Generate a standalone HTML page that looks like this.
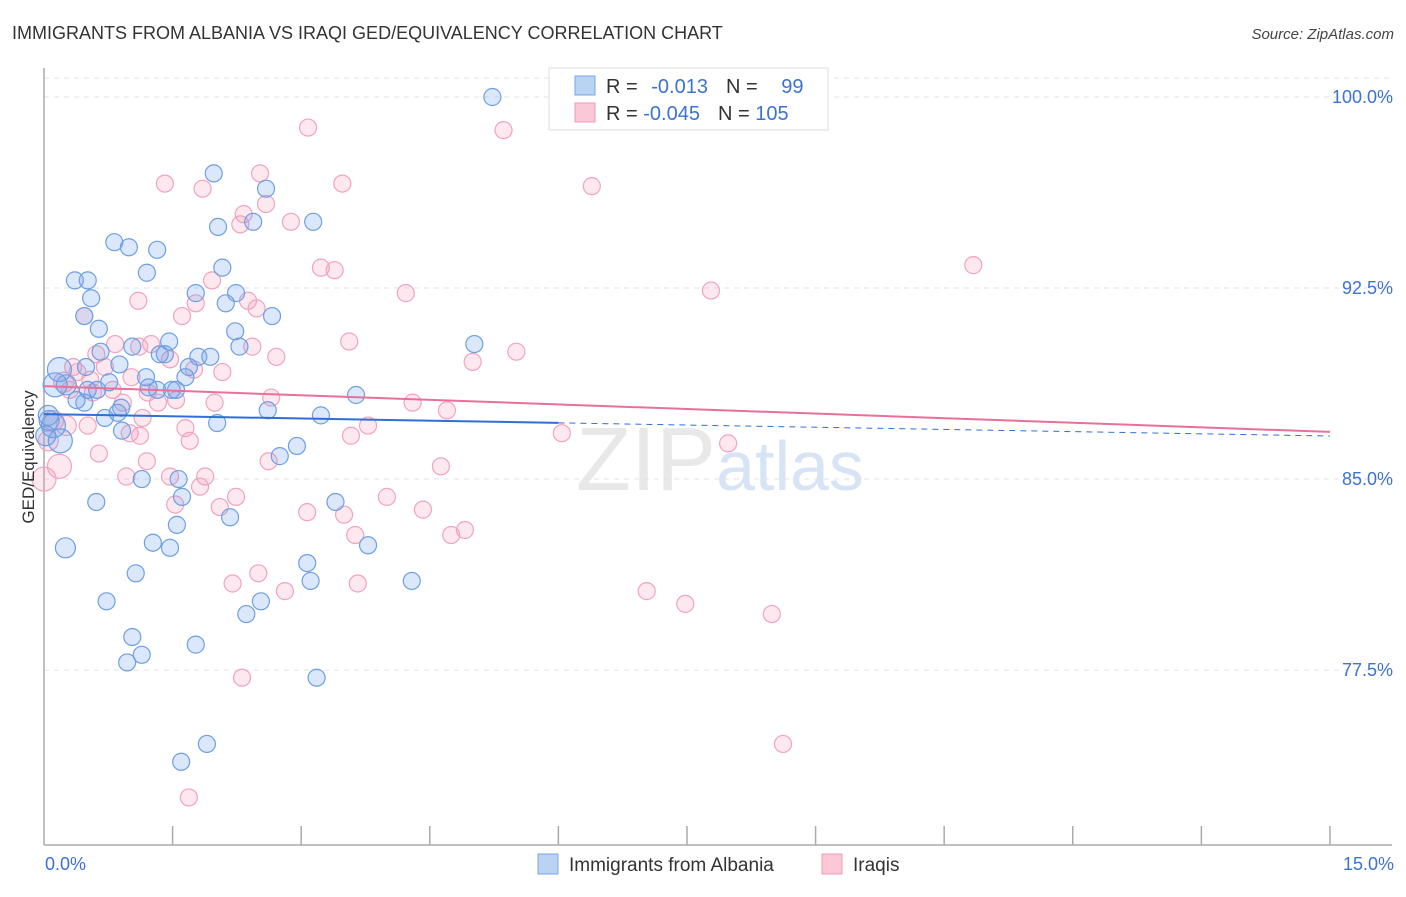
<!DOCTYPE html>
<html><head><meta charset="utf-8"><style>
body{margin:0;background:#fff;font-family:"Liberation Sans",sans-serif}
svg text{font-family:"Liberation Sans",sans-serif}
</style></head><body>
<svg id="chart" width="1406" height="892" xmlns="http://www.w3.org/2000/svg">
<text x="12" y="39" font-size="18" fill="#333">IMMIGRANTS FROM ALBANIA VS IRAQI GED/EQUIVALENCY CORRELATION CHART</text>
<text x="1394" y="39" font-size="15" fill="#444" text-anchor="end" font-style="italic">Source: ZipAtlas.com</text>
<text x="720" y="490" font-size="90" fill="#e8e8e8" text-anchor="middle" font-family="Liberation Serif">ZIP<tspan fill="#d6e4f5" font-family="Liberation Sans" font-size="70">atlas</tspan></text>
<g id="grid"></g><g id="axes"></g><g id="pts"></g><g id="trend"></g>
<text transform="translate(34,457) rotate(-90)" font-size="17" fill="#333" text-anchor="middle">GED/Equivalency</text>
<g>
<rect x="549" y="68" width="279" height="62" fill="#fff" stroke="#ddd"/>
<rect x="575" y="76" width="20" height="19" fill="#b9d3f3" stroke="#7aa6e6"/>
<rect x="575" y="103" width="20" height="19" fill="#fac8d6" stroke="#f09ab5"/>
<text x="606" y="93" font-size="20" fill="#333">R = <tspan fill="#3c73d0" dx="8">-0.013</tspan><tspan dx="18" fill="#333">N = </tspan><tspan dx="18" fill="#3c73d0">99</tspan></text>
<text x="606" y="120" font-size="20" fill="#333">R = <tspan fill="#3c73d0">-0.045</tspan><tspan dx="18" fill="#333">N = </tspan><tspan fill="#3c73d0">105</tspan></text>
</g>
<g>
<rect x="538" y="854" width="20" height="20" fill="#b9d3f3" stroke="#7aa6e6"/>
<text x="569" y="871" font-size="19" fill="#333">Immigrants from Albania</text>
<rect x="822" y="854" width="20" height="20" fill="#fac8d6" stroke="#f09ab5"/>
<text x="853" y="871" font-size="19" fill="#333">Iraqis</text>
</g>
</svg>
<script>
const blueX=[5.23,1.98,2.59,2.03,2.44,3.14,0.82,0.99,1.32,1.20,2.08,0.36,0.51,0.55,1.77,2.24,2.12,2.66,0.47,0.64,2.23,1.46,2.28,5.02,1.03,0.66,1.41,1.35,1.80,1.94,0.18,0.88,1.69,0.49,1.19,1.65,0.13,0.26,0.76,0.62,1.22,1.32,1.49,1.54,0.51,3.64,0.38,0.47,0.86,0.90,0.71,2.61,3.23,0.06,0.11,0.91,2.02,0.19,2.95,2.75,1.14,1.57,0.61,3.40,1.61,2.17,1.55,0.25,1.27,1.47,3.78,3.07,1.07,3.11,4.29,0.73,2.53,2.36,1.03,1.14,1.77,0.97,3.18,1.90,1.60,0.02,0.05];
const blueY=[100.0,97.0,96.4,94.9,95.1,95.1,94.3,94.1,94.0,93.1,93.3,92.8,92.8,92.1,92.3,92.3,91.9,91.4,91.4,90.9,90.8,90.4,90.2,90.3,90.2,90.0,89.9,89.9,89.8,89.8,89.3,89.5,89.4,89.4,89.0,89.0,88.7,88.7,88.8,88.5,88.6,88.5,88.5,88.5,88.5,88.3,88.1,88.0,87.6,87.8,87.4,87.7,87.5,87.3,87.1,86.9,87.2,86.5,86.3,85.9,85.0,85.0,84.1,84.1,84.3,83.5,83.2,82.3,82.5,82.3,82.4,81.7,81.3,81.0,81.0,80.2,80.2,79.7,78.8,78.1,78.5,77.8,77.2,74.6,73.9,86.7,87.5];
const pinkX=[3.08,5.36,1.41,1.85,2.52,3.48,6.39,2.59,2.33,2.29,2.88,3.23,3.39,10.84,1.96,4.22,7.78,1.10,1.77,2.38,2.48,0.47,1.61,2.43,3.56,1.25,1.11,0.83,0.61,2.71,5.51,5.00,1.47,1.75,2.08,0.34,0.39,0.71,1.02,0.54,0.23,0.30,0.57,0.80,1.21,1.54,0.92,1.33,1.99,2.65,4.30,4.70,1.15,1.65,0.51,0.11,0.26,1.00,1.12,1.70,3.58,3.78,6.04,7.98,0.64,1.20,0.18,0.96,1.47,1.88,2.62,4.63,1.82,2.24,1.53,4.00,2.05,3.07,3.50,4.42,4.91,4.75,3.63,2.50,2.20,2.81,3.66,7.03,7.48,8.49,2.31,8.62,1.69,0.0,0.05];
const pinkY=[98.8,98.7,96.6,96.4,97.0,96.6,96.5,95.8,95.4,95.0,95.1,93.3,93.2,93.4,92.8,92.3,92.4,92.0,91.9,92.0,91.7,91.4,91.4,90.2,90.4,90.3,90.2,90.3,89.9,89.8,90.0,89.6,89.7,89.3,89.2,89.4,89.2,89.4,89.0,88.9,88.8,88.5,88.4,88.5,88.4,88.1,88.0,88.0,88.0,88.2,88.0,87.7,87.4,87.0,87.1,87.3,87.1,86.8,86.7,86.5,86.7,87.1,86.8,86.4,86.0,85.7,85.5,85.1,85.1,85.1,85.7,85.5,84.7,84.3,84.0,84.3,83.9,83.7,83.6,83.8,83.0,82.8,82.8,81.3,80.9,80.6,80.9,80.6,80.1,79.7,77.2,74.6,72.5,85.0,86.5];
const yTicks=[100,92.5,85,77.5];
const yTickLabels=["100.0%","92.5%","85.0%","77.5%"];
const xTickLabels=["0.0%","15.0%"];
const blueTrend=[87.55,86.69]; // value at x=0 and x=15
const pinkTrend=[88.65,86.85];
const X=v=>44+v*85.73, Y=v=>97+(100-v)*25.47;
const NS="http://www.w3.org/2000/svg";
function mk(tag,attrs,parent){const e=document.createElementNS(NS,tag);for(const k in attrs)e.setAttribute(k,attrs[k]);parent.appendChild(e);return e;}
const grid=document.getElementById('grid'),axes=document.getElementById('axes'),pts=document.getElementById('pts'),tr=document.getElementById('trend');
let g=mk('line',{x1:44,x2:1392,y1:78,y2:78,stroke:'#e2e2e2','stroke-dasharray':'5,5'},grid);


yTicks.forEach((t,i)=>{
 const l=mk('line',{x1:44,x2:1392,y1:Y(t),y2:Y(t),stroke:'#e2e2e2','stroke-dasharray':'5,5'},grid);
 
 
 const tx=mk('text',{x:1393,y:Y(t)+6,'font-size':18,fill:'#3c73d0','text-anchor':'end'},axes);
 tx.textContent=yTickLabels[i];
 
 
});
let ax=mk('line',{x1:44,x2:44,y1:68,y2:845,stroke:'#aaa','stroke-width':1.5},axes);


ax=mk('line',{x1:44,x2:1392,y1:845,y2:845,stroke:'#aaa','stroke-width':1.5},axes);


for(let i=1;i<=10;i++){const tk=mk('line',{x1:X(i*1.5),x2:X(i*1.5),y1:826,y2:845,stroke:'#aaa','stroke-width':1.5},axes);
 
 }
let xl=mk('text',{x:45,y:870,'font-size':18,fill:'#3c73d0'},axes);xl.textContent=xTickLabels[0];


xl=mk('text',{x:1394,y:870,'font-size':18,fill:'#3c73d0','text-anchor':'end'},axes);xl.textContent=xTickLabels[1];


function dots(xs,ys,fill,stroke,name){xs.forEach((x,i)=>{
 const r=(x<0.3)?(i%3==0?12:10):8.5;
 const c=mk('circle',{cx:X(x),cy:Y(ys[i]),r:r,fill:fill,stroke:stroke,'stroke-width':1.2},pts);
 
 });}
dots(pinkX,pinkY,'rgba(245,150,180,0.22)','#f2a3bd','iraqis-point');
dots(blueX,blueY,'rgba(110,160,235,0.25)','#6e9fe3','albania-point');
const by=x=>blueTrend[0]+(blueTrend[1]-blueTrend[0])*x/15;
let t=mk('line',{x1:X(0),y1:Y(by(0)),x2:X(6),y2:Y(by(6)),stroke:'#2f6fd6','stroke-width':2},tr);


t=mk('line',{x1:X(6),y1:Y(by(6)),x2:X(15),y2:Y(by(15)),stroke:'#2f6fd6','stroke-width':1,'stroke-dasharray':'6,5'},tr);


t=mk('line',{x1:X(0),y1:Y(pinkTrend[0]),x2:X(15),y2:Y(pinkTrend[1]),stroke:'#e8709a','stroke-width':2},tr);


</script>
</body></html>
